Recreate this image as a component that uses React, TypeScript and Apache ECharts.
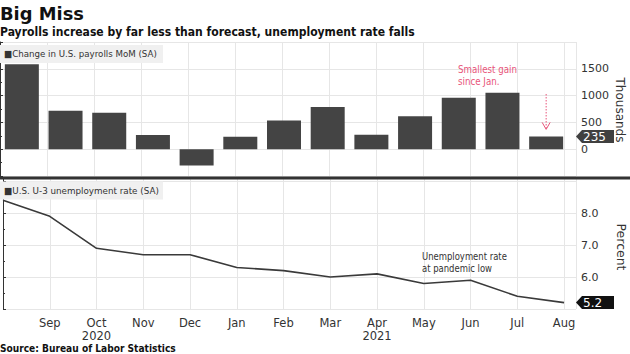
import React, { useEffect, useRef } from "react";
import * as echarts from "echarts";

const months = ["Aug", "Sep", "Oct", "Nov", "Dec", "Jan", "Feb", "Mar", "Apr", "May", "Jun", "Jul", "Aug"];
const tickLabels = ["", "Sep", "Oct\n2020", "Nov", "Dec", "Jan", "Feb", "Mar", "Apr\n2021", "May", "Jun", "Jul", "Aug"];
const payrolls = [1583, 716, 680, 264, -306, 233, 536, 785, 269, 614, 962, 1053, 235];
const unemployment = [8.4, 7.9, 6.9, 6.7, 6.7, 6.3, 6.2, 6.0, 6.1, 5.8, 5.9, 5.4, 5.2];
const payrollTicks = [0, 500, 1000, 1500];
const rateTicks = [6, 7, 8];

const FONT = "DejaVu Sans";
const DARK = "#333333";
const GRID = "#e6e6e6";
const PINK = "#e8557a";

function fitScale(text: string, size: number, weight: string, target: number) {
  const ctx = document.createElement("canvas").getContext("2d");
  if (!ctx) return 1;
  ctx.font = `${weight} ${size}px "${FONT}"`;
  const w = Math.max(...text.split("\n").map((l) => ctx.measureText(l).width));
  return w > 0 ? target / w : 1;
}

function txt(text: string, x: number, y: number, size: number, weight: string, fill: string, target?: number, extra: any = {}) {
  return {
    type: "text",
    x,
    y,
    scaleX: target ? fitScale(text, size, weight, target) : 1,
    z: 100,
    style: {
      text,
      fill,
      fontSize: size,
      fontFamily: FONT,
      fontWeight: weight,
      align: "left",
      verticalAlign: "middle",
      lineHeight: size + 2,
      ...extra,
    },
  };
}

export default function App() {
  const ref = useRef<HTMLDivElement>(null);
  useEffect(() => {
    if (!ref.current) return;
    const chart = echarts.init(ref.current, undefined, { renderer: "svg" });
    const lineMax = 576 / 47;
    const option: any = {
      animation: false,
      backgroundColor: "#ffffff",
      grid: [
        { left: 0, top: 42, width: 576, height: 134 },
        { left: -5, top: 42, width: 573, height: 134 },
        { left: 0, top: 178, width: 576, height: 131 },
      ],
      xAxis: [
        {
          type: "value", gridIndex: 0, min: 0, max: lineMax, interval: 1,
          axisLine: { show: false }, axisTick: { show: false }, axisLabel: { show: false },
          splitLine: { show: true, lineStyle: { color: GRID, width: 1 } },
        },
        {
          type: "category", gridIndex: 1, data: months, show: false,
        },
        {
          type: "value", gridIndex: 2, min: 0, max: lineMax, interval: 1,
          axisLine: { show: false }, axisTick: { show: false },
          axisLabel: {
            show: true, margin: 7, color: DARK, fontSize: 11.5, fontFamily: FONT, lineHeight: 13,
            showMaxLabel: false,
            formatter: (v: number) => (Number.isInteger(v) ? tickLabels[v] ?? "" : ""),
          },
          splitLine: { show: true, lineStyle: { color: GRID, width: 1 } },
        },
      ],
      yAxis: [
        {
          type: "value", gridIndex: 0, position: "right", min: -500, max: 2000, interval: 500,
          axisLine: { show: true, lineStyle: { color: DARK, width: 1 } },
          axisTick: { show: true, length: 3, lineStyle: { color: DARK } },
          minorTick: { show: true, splitNumber: 2, length: 2, lineStyle: { color: DARK } },
          axisLabel: {
            margin: 5, color: DARK, fontSize: 11, fontFamily: FONT,
            formatter: (v: number) => (payrollTicks.includes(v) ? String(v) : ""),
          },
          splitLine: { show: true, lineStyle: { color: GRID, width: 1 } },
        },
        { type: "value", gridIndex: 1, min: -500, max: 2000, show: false },
        {
          type: "value", gridIndex: 2, position: "right", min: 5, max: 9.1, interval: 1,
          axisLine: { show: true, lineStyle: { color: DARK, width: 1 } },
          axisTick: { show: true, length: 3, lineStyle: { color: DARK } },
          minorTick: { show: true, splitNumber: 2, length: 2, lineStyle: { color: DARK } },
          axisLabel: {
            margin: 5, color: DARK, fontSize: 11, fontFamily: FONT,
            showMaxLabel: false,
            formatter: (v: number) => (rateTicks.includes(v) ? v.toFixed(1) : ""),
          },
          splitLine: { show: true, lineStyle: { color: GRID, width: 1 } },
        },
      ],
      series: [
        {
          type: "bar", xAxisIndex: 1, yAxisIndex: 1, data: payrolls, barWidth: 34,
          itemStyle: { color: "#444444" },
        },
        {
          type: "line", xAxisIndex: 2, yAxisIndex: 2, symbol: "none",
          data: unemployment.map((v, i) => [i, v]),
          lineStyle: { color: "#3a3a3a", width: 1.6 },
        },
      ],
    };
    chart.setOption(option);

    const axisX = 576;
    const lastBarY = chart.convertToPixel({ yAxisIndex: 0 }, payrolls[payrolls.length - 1]) as number;
    const lastRateY = chart.convertToPixel({ yAxisIndex: 2 }, unemployment[unemployment.length - 1]) as number;
    const lastBarX = chart.convertToPixel({ xAxisIndex: 1 }, payrolls.length - 1) as number;
    const arrowTop = chart.convertToPixel({ yAxisIndex: 1 }, 1030) as number;
    const arrowBot = chart.convertToPixel({ yAxisIndex: 1 }, 370) as number;

    const marker = (y: number, label: string, fill: string) => [
      {
        type: "polygon", z: 100,
        shape: { points: [[axisX, y], [axisX + 6, y - 6.5], [614, y - 6.5], [614, y + 6.5], [axisX + 6, y + 6.5]] },
        style: { fill },
      },
      { ...txt(label, axisX + 7, y + 0.5, 12, "normal", "#ffffff"), z: 101 },
    ];

    const graphic: any[] = [
      txt("Big Miss", 0, 13, 18, "bold", "#111111", 84),
      txt("Payrolls increase by far less than forecast, unemployment rate falls", 0, 31.5, 12.5, "bold", "#111111", 415),
      { type: "rect", z: 90, shape: { x: 0, y: 45, width: 163, height: 18 }, style: { fill: "#f0f0f0" } },
      txt("■Change in U.S. payrolls MoM (SA)", 4, 54, 9.5, "normal", DARK, 153),
      { type: "rect", z: 90, shape: { x: 0, y: 181.5, width: 163, height: 18 }, style: { fill: "#f0f0f0" } },
      txt("■U.S. U-3 unemployment rate (SA)", 4, 190.5, 9.5, "normal", DARK, 155),
      {
        type: "line", z: 95,
        shape: { x1: 0, y1: 178, x2: 630, y2: 178 },
        style: { stroke: DARK, lineWidth: 3 },
      },
      {
        type: "text", x: 620, y: 110, rotation: -Math.PI / 2, z: 100,
        style: { text: "Thousands", fill: DARK, fontSize: 12, fontFamily: FONT, align: "center", verticalAlign: "middle" },
      },
      {
        type: "text", x: 621, y: 247, rotation: -Math.PI / 2, z: 100,
        style: { text: "Percent", fill: DARK, fontSize: 12.5, fontFamily: FONT, align: "center", verticalAlign: "middle" },
      },
      ...marker(lastBarY, String(payrolls[payrolls.length - 1]), "#404040"),
      ...marker(lastRateY, unemployment[unemployment.length - 1].toFixed(1), "#111111"),
      txt("Smallest gain\nsince Jan.", 458, 75.5, 10, "normal", PINK, 59),
      {
        type: "line", z: 100,
        shape: { x1: lastBarX, y1: arrowTop, x2: lastBarX, y2: arrowBot },
        style: { stroke: PINK, lineWidth: 1, lineDash: [1.5, 1.5] },
      },
      {
        type: "polyline", z: 100,
        shape: { points: [[lastBarX - 4, arrowBot - 7], [lastBarX, arrowBot], [lastBarX + 4, arrowBot - 7]] },
        style: { stroke: PINK, lineWidth: 1, fill: null },
      },
      txt("Unemployment rate\nat pandemic low", 422, 262.5, 10, "normal", DARK, 85),
      txt("Source: Bureau of Labor Statistics", 0, 348, 10, "bold", "#111111", 176),
    ];
    chart.setOption({ graphic });

    return () => chart.dispose();
  }, []);
  return <div ref={ref} style={{ position: "absolute", left: 0, top: 0, width: 630, height: 354 }} />;
}
